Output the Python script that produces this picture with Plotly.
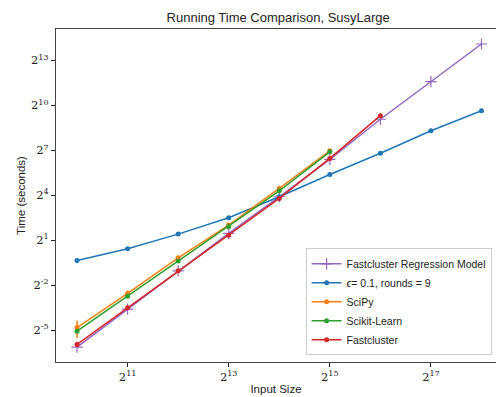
import numpy as np
import plotly.graph_objects as go

input_size = [2**10, 2**11, 2**12, 2**13, 2**14, 2**15, 2**16, 2**17, 2**18]

regression = [0.0143, 0.0825, 0.486, 2.75, 14.93, 84.4, 537.4, 3061, 17437]
eps_rounds = [0.785, 1.347, 2.657, 5.657, 14.93, 41.9, 111.4, 315.2, 797.9]
scipy_t = [0.0354, 0.171, 0.889, 4.03, 22.0, 125.4]
scipy_err = [0.0135, 0.025, 0.03, 0.1, 0.5, 2.0]
sklearn_t = [0.0298, 0.151, 0.763, 3.73, 19.7, 119.4]
sklearn_err = [0.002, 0.008, 0.02, 0.08, 0.3, 1.5]
fastcluster_t = [0.0162, 0.0878, 0.486, 2.53, 13.83, 88.0, 634.7]
fastcluster_err = [0.001, 0.004, 0.01, 0.05, 0.2, 1.0, 5.0]
eps_err = [0.01, 0.02, 0.03, 0.06, 0.15, 0.4, 1.0, 3.0, 8.0]

x_ticks = [11, 13, 15, 17]
y_ticks = [-5, -2, 1, 4, 7, 10, 13]

fig = go.Figure()

fig.add_trace(go.Scatter(
    x=input_size, y=regression, name="Fastcluster Regression Model",
    mode="lines+markers", line=dict(color="#9467bd", width=1.5),
    marker=dict(symbol="cross-thin", size=8, line=dict(color="#9467bd", width=1.2)),
))

def add_err(x, y, err, name, color):
    fig.add_trace(go.Scatter(
        x=x, y=y, name=name, mode="lines+markers",
        line=dict(color=color, width=1.5),
        marker=dict(symbol="circle", size=5, color=color),
        error_y=dict(type="data", array=err, visible=True, color=color,
                     thickness=1.5, width=0),
    ))

add_err(input_size, eps_rounds, eps_err, "<i>ϵ</i>= 0.1, rounds = 9", "#1f77b4")
add_err(input_size[:6], scipy_t, scipy_err, "SciPy", "#ff7f0e")
add_err(input_size[:6], sklearn_t, sklearn_err, "Scikit-Learn", "#2ca02c")
add_err(input_size[:7], fastcluster_t, fastcluster_err, "Fastcluster", "#d62728")

l2 = np.log10(2)
tickfont = dict(family="DejaVu Serif", size=11.5, color="#222")

fig.update_layout(
    width=496, height=397,
    margin=dict(l=56, r=0, t=29, b=35, autoexpand=False),
    paper_bgcolor="white", plot_bgcolor="white",
    font=dict(family="Liberation Sans", size=11, color="#222"),
    title=dict(text="Running Time Comparison, SusyLarge", x=0.505, xref="paper",
               xanchor="center", y=1 - 17/397, yanchor="middle",
               font=dict(family="Liberation Sans", size=13, color="#222")),
    showlegend=True,
    legend=dict(x=0.99, y=0.02, xanchor="right", yanchor="bottom",
                bordercolor="#cccccc", borderwidth=1, bgcolor="rgba(255,255,255,0.85)",
                font=dict(family="Liberation Sans", size=10.5, color="#222"),
                tracegroupgap=0, itemwidth=30),
)

fig.update_xaxes(
    type="log", range=[9.584*l2, 18.287*l2], automargin=False,
    tickvals=[2**v for v in x_ticks], ticktext=[f"2<sup>{v}</sup>" for v in x_ticks],
    tickfont=tickfont, ticks="outside", ticklen=4, tickcolor="#222",
    showline=True, linecolor="#444", linewidth=1.2, mirror=True,
    showgrid=False, zeroline=False,
    title=dict(text="Input Size", font=dict(family="Liberation Sans", size=11.5, color="#222"), standoff=2),
)
fig.update_yaxes(
    type="log", range=[-7.12*l2, 15.09*l2], automargin=False,
    tickvals=[2**v for v in y_ticks], ticktext=[f"2<sup>{v}</sup>" for v in y_ticks],
    tickfont=tickfont, ticks="outside", ticklen=4, tickcolor="#222",
    showline=True, linecolor="#444", linewidth=1.2, mirror=True,
    showgrid=False, zeroline=False,
    title=dict(text="Time (seconds)", font=dict(family="Liberation Sans", size=11.5, color="#222"), standoff=2),
)

fig.write_html("out.html", config={"displayModeBar": False},
               post_script="document.body.style.margin='0';document.body.style.padding='0';")
